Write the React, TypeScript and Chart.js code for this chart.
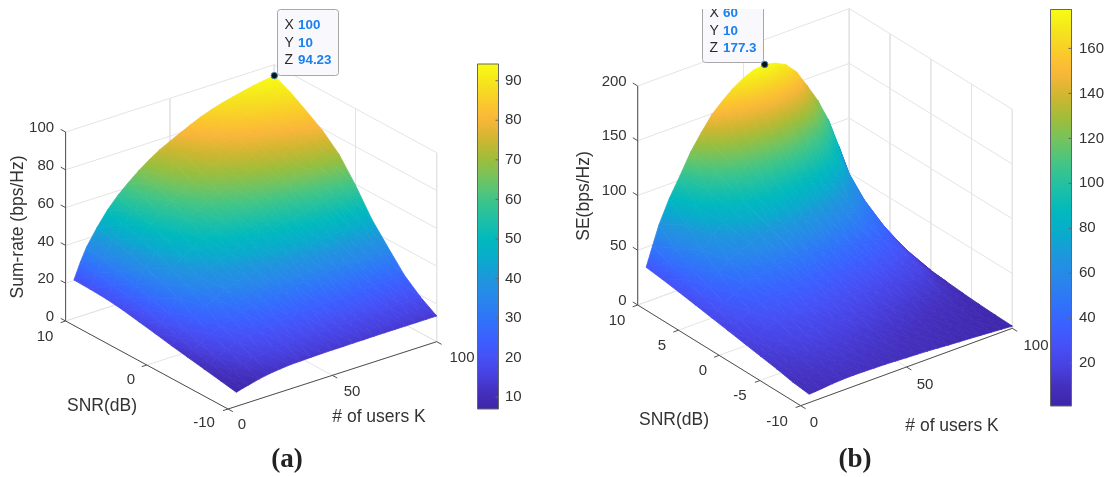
import React, { useEffect, useRef } from "react";
import { Chart, registerables } from "chart.js";

Chart.register(...registerables);

// ---------- data ----------
const USERS_K = [4, 7, 10, 15, 20, 25, 30, 35, 40, 45, 50, 55, 60, 65, 70, 75, 80, 85, 90, 95, 100];
const SNR_DB = [-10, -8, -6, -4, -2, 0, 2, 4, 6, 8, 10];

// rows follow SNR_DB, columns follow USERS_K
const SUM_RATE = [
  [7.4, 8.4, 9.2, 10.6, 11.6, 12.3, 12.8, 13, 13.2, 13.3, 13.4, 13.4, 13.5, 13.5, 13.6, 13.6, 13.6, 13.6, 13.6, 13.6, 13.6],
  [9, 10.6, 12, 13.8, 15.2, 16.1, 16.8, 17.3, 17.6, 17.8, 18, 18.1, 18.3, 18.4, 18.5, 18.6, 18.7, 18.8, 18.8, 18.9, 19],
  [10.5, 12.6, 14.5, 17, 19, 20.4, 21.5, 22.3, 23, 23.5, 24, 24.4, 24.8, 25, 25.2, 25.4, 25.6, 25.7, 25.8, 25.9, 26],
  [12, 14.8, 17.2, 20.5, 23, 25.2, 27, 28.4, 29.5, 30.3, 31, 31.8, 32.5, 33, 33.5, 34, 34.5, 34.9, 35.3, 35.7, 36],
  [13.5, 17.2, 20.5, 25, 28.5, 31.4, 34, 36, 37.5, 38.8, 40, 41, 42, 42.8, 43.5, 44.2, 44.8, 45.2, 45.5, 45.9, 46.2],
  [15.2, 20, 24, 30, 34, 37.5, 40.5, 43, 45, 46.6, 48, 49.6, 51, 52, 53, 54.3, 55.5, 56.5, 57.5, 58.5, 59.5],
  [16.8, 22.2, 27, 33.5, 39, 43.3, 47, 50.2, 53, 55.2, 57, 58.8, 60.5, 62, 63.5, 65, 66.5, 67.8, 69, 70, 71],
  [18.4, 24.5, 29.5, 37, 43, 48, 52, 55.8, 59, 61.6, 64, 66.2, 68, 69.8, 71.5, 72.8, 74, 75.2, 76.5, 77.7, 78.8],
  [19.5, 26, 31.5, 39.5, 46, 51.5, 56, 60.2, 64, 67.2, 70, 72.2, 74.2, 76, 77.5, 78.9, 80, 81.3, 82.5, 83.5, 84.5],
  [20, 27.5, 34, 42, 48.5, 54.5, 59.5, 64, 68, 71, 73.8, 76.3, 78.6, 80.8, 82.6, 84.2, 85.6, 87, 88, 89, 90],
  [20.3, 28.5, 35.5, 44, 51.5, 57.5, 62.5, 67, 71, 74.5, 77.3, 80, 82.6, 85, 87, 88.7, 90, 91.3, 92.5, 93.4, 94.23],
];

const SPECTRAL_EFF = [
  [7.6, 8, 8.5, 9.5, 10, 10.2, 10, 9.8, 9.5, 9, 8.5, 8, 7.5, 6.8, 6, 5.4, 4.8, 4.1, 3.4, 2.7, 2],
  [9.5, 10.3, 11, 12, 12.5, 12.6, 12.5, 12.3, 12, 11.5, 11, 10.3, 9.6, 8.8, 8, 7.2, 6.5, 5.7, 5, 3.8, 2.5],
  [12.5, 13, 13.5, 15, 16, 16.2, 16.2, 16, 15.5, 15, 14.2, 13.5, 12.7, 12, 11, 10, 9, 8.2, 7.3, 5.3, 3.2],
  [15, 16, 17, 19, 20.5, 21, 21.2, 21.2, 21, 20.3, 19.5, 18.5, 17.5, 16.5, 15.5, 14.5, 13.5, 12.5, 11, 8, 4.2],
  [17.5, 19.5, 21, 24, 26, 27, 27.8, 28, 28, 27.5, 26.5, 25.5, 24.5, 23.5, 22.5, 21, 20, 18.5, 17, 11.5, 5.5],
  [20, 23.5, 26, 30, 33, 35, 36, 36.5, 37, 36.5, 35.5, 34.5, 34, 33, 32, 30.5, 29, 27, 24.5, 16.5, 7],
  [22.5, 27.5, 31.5, 37, 42, 45, 47, 49, 50, 50, 49.5, 48.5, 47, 45.5, 44, 42, 40, 37, 33, 22, 9],
  [25, 32, 38, 47, 54, 59, 63, 66.5, 69, 70, 70, 69, 67, 65, 62, 59, 55, 50, 43, 28, 11.5],
  [27.5, 37, 45, 58, 68, 76, 83, 88, 92, 94, 95, 94.5, 93, 90, 86, 81, 75, 66, 55, 36, 14.5],
  [29.7, 43, 54, 72, 85, 97, 108, 116, 122, 126, 129, 130.5, 130, 127, 121, 114, 105, 92, 73, 47, 18.5],
  [31.6, 49, 66, 87, 104, 122, 136, 149, 158, 166, 172, 176, 177.3, 175, 170, 160, 144, 127, 106, 78, 24],
];

const Z_TICKS_A = [0, 20, 40, 60, 80, 100];
const Z_TICKS_B = [0, 50, 100, 150, 200];
const K_TICKS = [0, 50, 100];
const SNR_TICKS_A = [-10, 0, 10];
const SNR_TICKS_B = [-10, -5, 0, 5, 10];
const CBAR_TICKS_A = [10, 20, 30, 40, 50, 60, 70, 80, 90];
const CBAR_TICKS_B = [20, 40, 60, 80, 100, 120, 140, 160];
const PEAK_A = { k: 100, s: 10, z: 94.23 };
const PEAK_B = { k: 60, s: 10, z: 177.3 };

// ---------- colour map ----------
const PARULA: [number, number, number, number][] = [
  [0.0, 62, 38, 168],
  [0.05, 68, 48, 190],
  [0.1, 72, 65, 225],
  [0.15, 70, 80, 245],
  [0.2, 60, 95, 255],
  [0.26, 48, 115, 250],
  [0.32, 40, 135, 235],
  [0.38, 30, 150, 220],
  [0.43, 10, 170, 205],
  [0.49, 0, 185, 190],
  [0.55, 30, 192, 165],
  [0.61, 65, 197, 135],
  [0.67, 115, 195, 95],
  [0.72, 155, 190, 60],
  [0.78, 205, 182, 48],
  [0.84, 250, 182, 58],
  [0.89, 250, 202, 42],
  [0.95, 245, 230, 28],
  [1.0, 249, 251, 20],
];

function parula(t: number) {
  const v = Math.max(0, Math.min(1, t));
  for (let i = 1; i < PARULA.length; i++) {
    if (v <= PARULA[i][0]) {
      const a = PARULA[i - 1];
      const b = PARULA[i];
      const f = (v - a[0]) / (b[0] - a[0]);
      const c = [1, 2, 3].map((j) => Math.round(a[j] + (b[j] - a[j]) * f));
      return `rgb(${c[0]},${c[1]},${c[2]})`;
    }
  }
  return "rgb(249,251,20)";
}

// ---------- panels ----------
type Panel = {
  front: number[]; right: number[]; left: number[]; zPx: number;
  zTop: number; zMin: number; zMax: number; cb: number[]; // cb: x0,x1,yTop,yBottom
};
const PANEL_A: Panel = { front: [228, 409], right: [436.7, 341.7], left: [65.6, 321], zPx: 1.89, zTop: 100, zMin: 7, zMax: 94.23, cb: [477.5, 498.5, 64, 409] };
const PANEL_B: Panel = { front: [800.7, 405.7], right: [1012.3, 328.3], left: [637.7, 305], zPx: 1.095, zTop: 200, zMin: 1, zMax: 177.3, cb: [1050.5, 1071.5, 9.5, 406] };

const proj = (p: Panel, k: number, s: number, z: number) => ({
  x: p.front[0] + ((p.right[0] - p.front[0]) * k) / 100 + ((p.left[0] - p.front[0]) * (s + 10)) / 20,
  y: p.front[1] + ((p.right[1] - p.front[1]) * k) / 100 + ((p.left[1] - p.front[1]) * (s + 10)) / 20 - p.zPx * z,
});
const cbY = (p: Panel, v: number) => p.cb[3] + ((v - p.zMin) / (p.zMax - p.zMin)) * (p.cb[2] - p.cb[3]);

// The scales map the projection plane 1:1 onto the canvas; before the first layout they return NaN.
function pixel(scale: any, v: number) {
  const px = scale.getPixelForValue(v);
  return Number.isFinite(px) ? px : v;
}

function triGradient(chart: any, p: Panel, pts: { x: number; y: number }[], zs: number[]) {
  const sx = chart.scales.x;
  const sy = chart.scales.y;
  const c = chart.ctx as CanvasRenderingContext2D;
  const P = pts.map((q) => [pixel(sx, q.x), pixel(sy, q.y)]);
  const zHi = Math.max(...zs);
  const zLo = Math.min(...zs);
  const T = (z: number) => (z - p.zMin) / (p.zMax - p.zMin);
  const ux = P[1][0] - P[0][0], uy = P[1][1] - P[0][1];
  const vx = P[2][0] - P[0][0], vy = P[2][1] - P[0][1];
  const det = ux * vy - uy * vx;
  if (Math.abs(det) < 1e-3 || zHi - zLo < 1e-3) return parula(T((zHi + zLo) / 2));
  const dz1 = zs[1] - zs[0], dz2 = zs[2] - zs[0];
  const a = (dz1 * vy - dz2 * uy) / det;
  const b = (ux * dz2 - vx * dz1) / det;
  const len2 = a * a + b * b;
  const iLo = zs.indexOf(zLo);
  const k = (zHi - zLo) / len2;
  const g = c.createLinearGradient(P[iLo][0], P[iLo][1], P[iLo][0] + a * k, P[iLo][1] + b * k);
  const n = 8;
  for (let i = 0; i <= n; i++) g.addColorStop(i / n, parula(T(zLo + ((zHi - zLo) * i) / n)));
  return g;
}

function polyline(points: { x: number; y: number }[], color: string, width: number) {
  return {
    type: "scatter", data: points, showLine: true, fill: false, borderColor: color,
    backgroundColor: color, borderWidth: width, pointRadius: 0, tension: 0,
  };
}

function buildPanel(p: Panel, table: number[][], zTicks: number[], sTicks: number[], peak: { k: number; s: number; z: number }) {
  const out: any[] = [];
  const GRID = "#e4e4e4";
  const AXIS = "#505050";
  const P = (k: number, s: number, z: number) => proj(p, k, s, z);
  // walls and floor
  zTicks.forEach((z) => {
    out.push(polyline([P(0, 10, z), P(100, 10, z), P(100, -10, z)], GRID, 1));
  });
  K_TICKS.forEach((k) => {
    out.push(polyline([P(k, 10, p.zTop), P(k, 10, 0), P(k, -10, 0)], GRID, 1));
  });
  sTicks.forEach((s) => {
    out.push(polyline([P(100, s, p.zTop), P(100, s, 0), P(0, s, 0)], GRID, 1));
  });
  // surface, back to front
  for (let i = SNR_DB.length - 2; i >= 0; i--) {
    for (let j = USERS_K.length - 2; j >= 0; j--) {
      const idx = [[i + 1, j + 1], [i + 1, j], [i, j + 1], [i, j]];
      [[0, 1, 2], [1, 3, 2]].forEach((tri) => {
        const pts = tri.map((n) => P(USERS_K[idx[n][1]], SNR_DB[idx[n][0]], table[idx[n][0]][idx[n][1]]));
        const zs = tri.map((n) => table[idx[n][0]][idx[n][1]]);
        const paint = (c: any) => triGradient(c.chart, p, pts, zs);
        out.push({
          type: "scatter", data: [...pts, pts[0]], showLine: true, fill: "shape",
          backgroundColor: paint, borderColor: paint, borderWidth: 0.8, pointRadius: 0, tension: 0,
        });
      });
    }
  }
  // axes in front of the floor
  out.push(polyline([P(0, 10, 0), P(0, 10, p.zTop)], AXIS, 1));
  out.push(polyline([P(0, -10, 0), P(0, 10, 0)], AXIS, 1));
  out.push(polyline([P(0, -10, 0), P(100, -10, 0)], AXIS, 1));
  zTicks.forEach((z) => out.push(polyline([P(0, 10, z), P(0, 10.6, z)], AXIS, 1)));
  sTicks.forEach((s) => out.push(polyline([P(0, s, 0), P(-2.4, s, 0)], AXIS, 1)));
  K_TICKS.forEach((k) => out.push(polyline([P(k, -10, 0), P(k, -10.6, 0)], AXIS, 1)));
  // colour bar
  const [x0, x1, yT, yB] = p.cb;
  const barPaint = (c: any) => {
    const sy = c.chart.scales.y;
    const g = c.chart.ctx.createLinearGradient(0, pixel(sy, yB), 0, pixel(sy, yT));
    for (let i = 0; i <= 40; i++) g.addColorStop(i / 40, parula(i / 40));
    return g;
  };
  out.push({
    type: "scatter",
    data: [{ x: x0, y: yT }, { x: x1, y: yT }, { x: x1, y: yB }, { x: x0, y: yB }, { x: x0, y: yT }],
    showLine: true, fill: "shape", backgroundColor: barPaint, borderColor: "#666666", borderWidth: 1, pointRadius: 0, tension: 0,
  });
  // data tip marker
  out.push({
    type: "scatter", data: [P(peak.k, peak.s, peak.z)], showLine: false,
    pointRadius: 3.2, backgroundColor: "#101010", borderColor: "#2a80c8", borderWidth: 1,
  });
  return out;
}

// ---------- text ----------
const LABEL = "#333333";
const SANS = '"Liberation Sans", Arial, sans-serif';
const AXIS_TITLE = `17.5px ${SANS}`;

function text(c: CanvasRenderingContext2D, s: string, x: number, y: number, align: CanvasTextAlign = "center", font = `15px ${SANS}`, color = LABEL) {
  c.font = font; c.fillStyle = color; c.textAlign = align; c.textBaseline = "middle";
  c.fillText(s, x, y);
}
function rotated(c: CanvasRenderingContext2D, s: string, x: number, y: number) {
  c.save(); c.translate(x, y); c.rotate(-Math.PI / 2);
  text(c, s, 0, 0, "center", AXIS_TITLE);
  c.restore();
}
function tip(c: CanvasRenderingContext2D, x0: number, x1: number, y0: number, y1: number, rows: string[][], xv: number, rowY: number[]) {
  c.save();
  c.beginPath(); c.rect(0, 9, 1114, 468); c.clip();
  c.beginPath(); c.roundRect(x0, y0, x1 - x0, y1 - y0, 3);
  c.fillStyle = "#f9f9fd"; c.fill();
  c.strokeStyle = "#a8a8a8"; c.lineWidth = 1; c.stroke();
  rows.forEach((r, i) => {
    text(c, r[0], x0 + 7, rowY[i], "left", `14px ${SANS}`, "#2a2a2a");
    text(c, r[1], xv, rowY[i], "left", `bold 13.4px ${SANS}`, "#1a80f0");
  });
  c.restore();
}

const labelsPlugin = {
  id: "labels3d",
  afterDatasetsDraw(chart: any) {
    const c: CanvasRenderingContext2D = chart.ctx;
    const sx = chart.scales.x, sy = chart.scales.y;
    const PX = (q: { x: number; y: number }) => [sx.getPixelForValue(q.x), sy.getPixelForValue(q.y)];
    // panel a
    Z_TICKS_A.forEach((z) => { const [x, y] = PX(proj(PANEL_A, 0, 10, z)); text(c, String(z), x - 11.5, y - 4, "right"); });
    [[10, 45, 337], [0, 131, 380], [-10, 204, 423]].forEach(([v, x, y]) => text(c, String(v), x, y));
    [[0, 242, 425], [50, 352, 392], [100, 462, 358]].forEach(([v, x, y]) => text(c, String(v), x, y));
    text(c, "SNR(dB)", 102, 406, "center", AXIS_TITLE);
    text(c, "# of users K", 379, 417, "center", AXIS_TITLE);
    rotated(c, "Sum-rate (bps/Hz)", 18, 227);
    CBAR_TICKS_A.forEach((v) => {
      const y = sy.getPixelForValue(cbY(PANEL_A, v));
      c.strokeStyle = "#666666"; c.lineWidth = 1; c.beginPath(); c.moveTo(PANEL_A.cb[1] - 3, y); c.lineTo(PANEL_A.cb[1], y); c.stroke();
      text(c, String(v), 505, y, "left");
    });
    text(c, "(a)", 287, 460, "center", `bold 27px "Liberation Serif", serif`, "#222222");
    tip(c, 277.5, 338.5, 9.5, 75.5, [["X", "100"], ["Y", "10"], ["Z", "94.23"]], 298, [25, 43, 60.5]);
    // panel b
    Z_TICKS_B.forEach((z) => { const [x, y] = PX(proj(PANEL_B, 0, 10, z)); text(c, String(z), x - 11, y - 4.5, "right"); });
    [[10, 617, 321], [5, 662, 346], [0, 703, 371], [-5, 740, 396], [-10, 777, 422]].forEach(([v, x, y]) => text(c, String(v), x, y));
    [[0, 814, 423], [50, 925, 385], [100, 1036, 346]].forEach(([v, x, y]) => text(c, String(v), x, y));
    text(c, "SNR(dB)", 674, 420, "center", AXIS_TITLE);
    text(c, "# of users K", 952, 426, "center", AXIS_TITLE);
    rotated(c, "SE(bps/Hz)", 584, 196);
    CBAR_TICKS_B.forEach((v) => {
      const y = sy.getPixelForValue(cbY(PANEL_B, v));
      c.strokeStyle = "#666666"; c.lineWidth = 1; c.beginPath(); c.moveTo(PANEL_B.cb[1] - 3, y); c.lineTo(PANEL_B.cb[1], y); c.stroke();
      text(c, String(v), 1079, y, "left");
    });
    text(c, "(b)", 855, 460, "center", `bold 27px "Liberation Serif", serif`, "#222222");
    tip(c, 702.5, 763.5, 0, 62.5, [["X", "60"], ["Y", "10"], ["Z", "177.3"]], 723, [13.5, 31, 48.5]);
  },
};

export default function App() {
  const ref = useRef<HTMLCanvasElement | null>(null);
  useEffect(() => {
    document.body.style.margin = "0";
    document.body.style.background = "#ffffff";
    const list = [
      ...buildPanel(PANEL_A, SUM_RATE, Z_TICKS_A, SNR_TICKS_A, PEAK_A),
      ...buildPanel(PANEL_B, SPECTRAL_EFF, Z_TICKS_B, SNR_TICKS_B, PEAK_B),
    ];
    // Chart.js paints the first dataset last, so the painter's order is reversed here
    const datasets = list.reverse();
    const chart = new Chart(ref.current as HTMLCanvasElement, {
      type: "scatter",
      data: { datasets },
      options: {
        animation: false,
        responsive: false,
        layout: { padding: 0, autoPadding: false },
        plugins: { legend: { display: false }, tooltip: { enabled: false } },
        elements: { line: { borderJoinStyle: "round" } },
        scales: {
          x: { type: "linear", min: 0, max: 1114, display: false },
          y: { type: "linear", min: 0, max: 477, reverse: true, display: false },
        },
      },
      plugins: [labelsPlugin],
    } as any);
    return () => chart.destroy();
  }, []);
  return <canvas ref={ref} width={1114} height={477} style={{ display: "block", filter: "blur(0.5px)" }} />;
}
